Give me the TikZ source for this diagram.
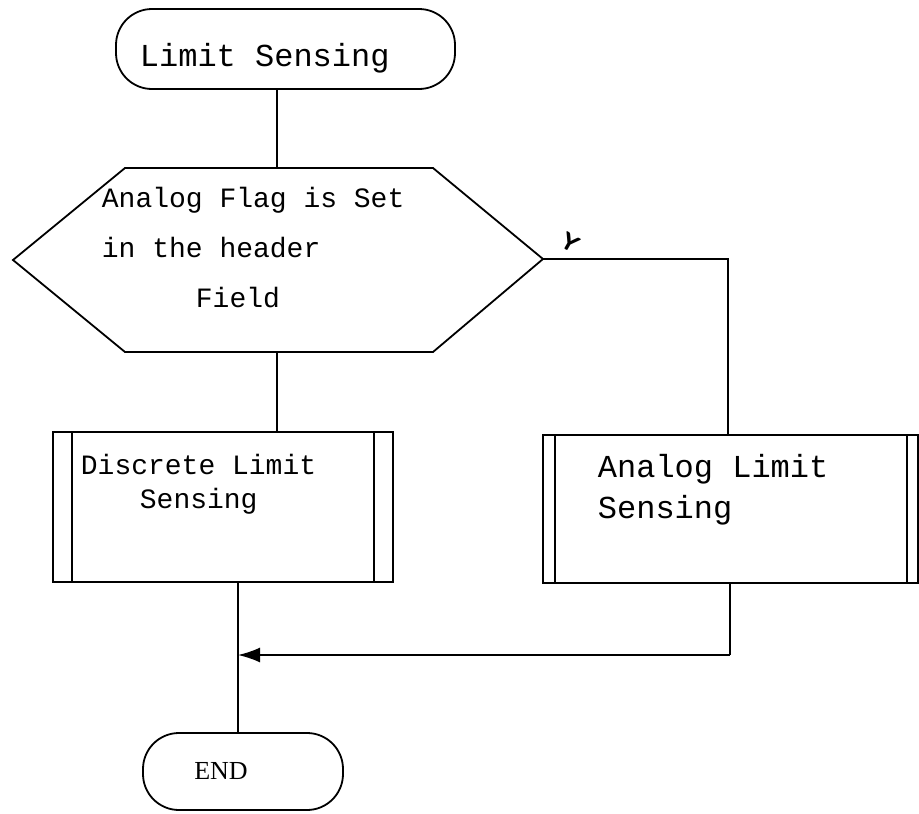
\documentclass[tikz,border=0pt]{standalone}
\usepackage{fontspec}
\setmonofont{Liberation Mono}
\newfontfamily\endfont{Liberation Serif}
\usetikzlibrary{arrows.meta}

\begin{document}
\begin{tikzpicture}[
x=1pt,y=-1pt,
line width=1.8pt,
term/.style={
  draw,
  rounded corners=36pt,
  inner sep=0pt},
predef/.style={
  draw,
  inner sep=0pt},
lbl/.style={
  font=\ttfamily\fontsize{28}{50}\selectfont,
  align=left,
  anchor=base west,
  inner sep=0pt}
]
\useasboundingbox (0,0) rectangle (919,814);
% terminals
\node[term, minimum width=339pt, minimum height=80pt] (start) at (285.5,49) {};
\node[lbl, font=\ttfamily\fontsize{32}{32}\selectfont] (startlbl) at (139,66) {Limit Sensing};
\node[term, minimum width=200pt, minimum height=77pt] (endnode) at (243,771.5) {};
\node[font=\endfont\fontsize{26}{26}\selectfont, inner sep=0pt] (endlbl) at (221,771) {END};
% decision
\draw
  (125,168) -- (277,168) coordinate (hexT) --
  (433,168) --
  (543,259) coordinate (hexR) --
  (433,352) --
  (277,352) coordinate (hexB) --
  (125,352) --
  (13,260) -- cycle;
\node[lbl] (hexlbl) at (101,307)
  {Analog Flag is Set\\in the header\\\hspace*{94pt}Field};
\node[font=\sffamily\bfseries\fontsize{24}{24}\selectfont, rotate=-30] (ylbl) at (570,243) {Y};
% predefined processes
\node[predef, minimum width=340pt, minimum height=150pt] (disc) at (223,507) {};
\node[predef, minimum width=375pt, minimum height=148pt] (analog) at (730.5,509) {};
\draw ([xshift=20pt]disc.north west) -- ([xshift=20pt]disc.south west);
\draw ([xshift=-20pt]disc.north east) -- ([xshift=-20pt]disc.south east);
\draw ([xshift=13pt]analog.north west) -- ([xshift=13pt]analog.south west);
\draw ([xshift=-12pt]analog.north east) -- ([xshift=-12pt]analog.south east);
\node[lbl, font=\ttfamily\fontsize{28}{34}\selectfont] (disclbl) at (80,508)
  {Discrete Limit\\\hspace*{59pt}Sensing};
\node[lbl, font=\ttfamily\fontsize{32}{41}\selectfont] (analoglbl) at (597,518)
  {Analog Limit\\Sensing};
% connectors
\coordinate (turn) at (728,259);
\coordinate (back) at (730,655);
\coordinate (join) at (238,655);
\draw (start.south -| hexT) -- (hexT);
\draw (hexB) -- (hexB |- disc.north);
\draw (hexR) -- (turn) -- (turn |- analog.north);
\draw (analog.south -| back) -- (back);
\draw[-{Latex[length=22pt,width=15pt]}] (back) -- (join);
\draw (disc.south -| join) -- (endnode.north -| join);
\end{tikzpicture}
\end{document}
